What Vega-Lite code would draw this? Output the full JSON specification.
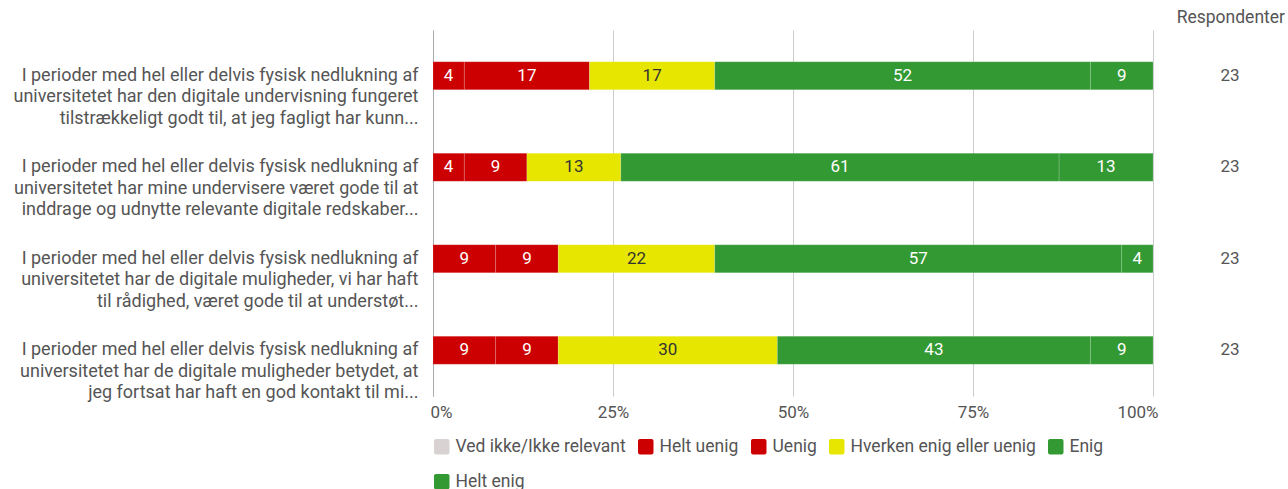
{
  "$schema": "https://vega.github.io/schema/vega-lite/v6.json",
  "width": 852,
  "height": 366,
  "padding": {"left": 13, "top": 8, "right": 0, "bottom": 5},
  "background": "white",
  "title": {"text": "Respondenter", "anchor": "end", "fontSize": 17.5, "font": "Roboto", "fontWeight": "normal", "color": "#555555", "offset": 4},
  "datasets": {
    "answers": [
      {"q": "I perioder med hel eller delvis fysisk nedlukning af|universitetet har den digitale undervisning fungeret|tilstrækkeligt godt til, at jeg fagligt har kunn...", "category": "Helt uenig", "ord": 2, "count": 1, "pct": 4},
      {"q": "I perioder med hel eller delvis fysisk nedlukning af|universitetet har den digitale undervisning fungeret|tilstrækkeligt godt til, at jeg fagligt har kunn...", "category": "Uenig", "ord": 3, "count": 4, "pct": 17},
      {"q": "I perioder med hel eller delvis fysisk nedlukning af|universitetet har den digitale undervisning fungeret|tilstrækkeligt godt til, at jeg fagligt har kunn...", "category": "Hverken enig eller uenig", "ord": 4, "count": 4, "pct": 17},
      {"q": "I perioder med hel eller delvis fysisk nedlukning af|universitetet har den digitale undervisning fungeret|tilstrækkeligt godt til, at jeg fagligt har kunn...", "category": "Enig", "ord": 5, "count": 12, "pct": 52},
      {"q": "I perioder med hel eller delvis fysisk nedlukning af|universitetet har den digitale undervisning fungeret|tilstrækkeligt godt til, at jeg fagligt har kunn...", "category": "Helt enig", "ord": 6, "count": 2, "pct": 9},
      {"q": "I perioder med hel eller delvis fysisk nedlukning af|universitetet har mine undervisere været gode til at|inddrage og udnytte relevante digitale redskaber...", "category": "Helt uenig", "ord": 2, "count": 1, "pct": 4},
      {"q": "I perioder med hel eller delvis fysisk nedlukning af|universitetet har mine undervisere været gode til at|inddrage og udnytte relevante digitale redskaber...", "category": "Uenig", "ord": 3, "count": 2, "pct": 9},
      {"q": "I perioder med hel eller delvis fysisk nedlukning af|universitetet har mine undervisere været gode til at|inddrage og udnytte relevante digitale redskaber...", "category": "Hverken enig eller uenig", "ord": 4, "count": 3, "pct": 13},
      {"q": "I perioder med hel eller delvis fysisk nedlukning af|universitetet har mine undervisere været gode til at|inddrage og udnytte relevante digitale redskaber...", "category": "Enig", "ord": 5, "count": 14, "pct": 61},
      {"q": "I perioder med hel eller delvis fysisk nedlukning af|universitetet har mine undervisere været gode til at|inddrage og udnytte relevante digitale redskaber...", "category": "Helt enig", "ord": 6, "count": 3, "pct": 13},
      {"q": "I perioder med hel eller delvis fysisk nedlukning af|universitetet har de digitale muligheder, vi har haft|til rådighed, været gode til at understøt...", "category": "Helt uenig", "ord": 2, "count": 2, "pct": 9},
      {"q": "I perioder med hel eller delvis fysisk nedlukning af|universitetet har de digitale muligheder, vi har haft|til rådighed, været gode til at understøt...", "category": "Uenig", "ord": 3, "count": 2, "pct": 9},
      {"q": "I perioder med hel eller delvis fysisk nedlukning af|universitetet har de digitale muligheder, vi har haft|til rådighed, været gode til at understøt...", "category": "Hverken enig eller uenig", "ord": 4, "count": 5, "pct": 22},
      {"q": "I perioder med hel eller delvis fysisk nedlukning af|universitetet har de digitale muligheder, vi har haft|til rådighed, været gode til at understøt...", "category": "Enig", "ord": 5, "count": 13, "pct": 57},
      {"q": "I perioder med hel eller delvis fysisk nedlukning af|universitetet har de digitale muligheder, vi har haft|til rådighed, været gode til at understøt...", "category": "Helt enig", "ord": 6, "count": 1, "pct": 4},
      {"q": "I perioder med hel eller delvis fysisk nedlukning af|universitetet har de digitale muligheder betydet, at|jeg fortsat har haft en god kontakt til mi...", "category": "Helt uenig", "ord": 2, "count": 2, "pct": 9},
      {"q": "I perioder med hel eller delvis fysisk nedlukning af|universitetet har de digitale muligheder betydet, at|jeg fortsat har haft en god kontakt til mi...", "category": "Uenig", "ord": 3, "count": 2, "pct": 9},
      {"q": "I perioder med hel eller delvis fysisk nedlukning af|universitetet har de digitale muligheder betydet, at|jeg fortsat har haft en god kontakt til mi...", "category": "Hverken enig eller uenig", "ord": 4, "count": 7, "pct": 30},
      {"q": "I perioder med hel eller delvis fysisk nedlukning af|universitetet har de digitale muligheder betydet, at|jeg fortsat har haft en god kontakt til mi...", "category": "Enig", "ord": 5, "count": 10, "pct": 43},
      {"q": "I perioder med hel eller delvis fysisk nedlukning af|universitetet har de digitale muligheder betydet, at|jeg fortsat har haft en god kontakt til mi...", "category": "Helt enig", "ord": 6, "count": 2, "pct": 9}
    ],
    "respondents": [
      {"q": "I perioder med hel eller delvis fysisk nedlukning af|universitetet har den digitale undervisning fungeret|tilstrækkeligt godt til, at jeg fagligt har kunn...", "n": 23},
      {"q": "I perioder med hel eller delvis fysisk nedlukning af|universitetet har mine undervisere været gode til at|inddrage og udnytte relevante digitale redskaber...", "n": 23},
      {"q": "I perioder med hel eller delvis fysisk nedlukning af|universitetet har de digitale muligheder, vi har haft|til rådighed, været gode til at understøt...", "n": 23},
      {"q": "I perioder med hel eller delvis fysisk nedlukning af|universitetet har de digitale muligheder betydet, at|jeg fortsat har haft en god kontakt til mi...", "n": 23}
    ]
  },
  "layer": [
    {
      "data": {"name": "answers"},
      "mark": {"type": "bar", "size": 28, "stroke": "#ffffff", "strokeWidth": 1, "strokeOpacity": 0.15},
      "encoding": {
        "x": {
          "field": "count", "type": "quantitative", "stack": "normalize",
          "scale": {"domain": [0, 1.1833], "nice": false, "zero": true},
          "axis": {
            "values": [0, 0.25, 0.5, 0.75, 1], "format": ".0%", "title": null,
            "grid": true, "gridColor": "#cccccc", "domain": false, "ticks": false,
            "labelFontSize": 17, "labelColor": "#555555", "labelPadding": 8, "labelFont": "Roboto",
            "labelAlign": {"condition": [{"test": "datum.value === 0", "value": "left"}, {"test": "datum.value === 1", "value": "right"}], "value": "center"},
            "labelOffset": {"condition": [{"test": "datum.value === 0", "value": -3}, {"test": "datum.value === 1", "value": 5}], "value": 0}
          }
        },
        "y": {
          "field": "q", "type": "nominal", "sort": null,
          "scale": {"paddingInner": 0, "paddingOuter": 0},
          "axis": {
            "title": null, "ticks": false, "domain": true, "domainColor": "#aaaaaa",
            "labelExpr": "split(datum.label, '|')", "labelFontSize": 18, "labelColor": "#555555",
            "labelFont": "Roboto", "labelLineHeight": 21.5, "labelLimit": 600, "labelPadding": 15
          }
        },
        "color": {
          "field": "category", "type": "nominal",
          "scale": {
            "domain": ["Ved ikke/Ikke relevant", "Helt uenig", "Uenig", "Hverken enig eller uenig", "Enig", "Helt enig"],
            "range": ["#d9d2d2", "#cc0000", "#cc0000", "#e6e600", "#339933", "#339933"]
          },
          "legend": {
            "orient": "bottom", "direction": "horizontal", "columns": 5, "gridAlign": "none", "title": null,
            "labelFontSize": 17.5, "labelColor": "#555555", "labelFont": "Roboto", "labelLimit": 400,
            "symbolType": "M-0.75,-1H0.75A0.25,0.25 0 0 1 1,-0.75V0.75A0.25,0.25 0 0 1 0.75,1H-0.75A0.25,0.25 0 0 1 -1,0.75V-0.75A0.25,0.25 0 0 1 -0.75,-1Z",
            "symbolSize": 240, "symbolStrokeWidth": 0, "columnPadding": 11, "rowPadding": 16, "labelOffset": 5, "offset": 18
          }
        },
        "order": {"field": "ord", "type": "quantitative"}
      }
    },
    {
      "data": {"name": "answers"},
      "mark": {"type": "text", "fontSize": 17, "font": "Roboto", "align": "center", "baseline": "middle"},
      "encoding": {
        "x": {"field": "count", "type": "quantitative", "stack": "normalize", "bandPosition": 0.5},
        "y": {"field": "q", "type": "nominal", "sort": null},
        "detail": {"field": "category"},
        "order": {"field": "ord", "type": "quantitative"},
        "text": {"field": "pct", "type": "quantitative"},
        "color": {"condition": {"test": "datum.category === 'Hverken enig eller uenig'", "value": "#333333"}, "value": "#ffffff"}
      }
    },
    {
      "data": {"name": "respondents"},
      "mark": {"type": "text", "fontSize": 17, "font": "Roboto", "color": "#555555", "align": "center", "baseline": "middle"},
      "encoding": {
        "x": {"datum": 1.107},
        "y": {"field": "q", "type": "nominal", "sort": null},
        "text": {"field": "n", "type": "quantitative"}
      }
    }
  ],
  "config": {
    "font": "Roboto",
    "view": {"stroke": null}
  }
}
